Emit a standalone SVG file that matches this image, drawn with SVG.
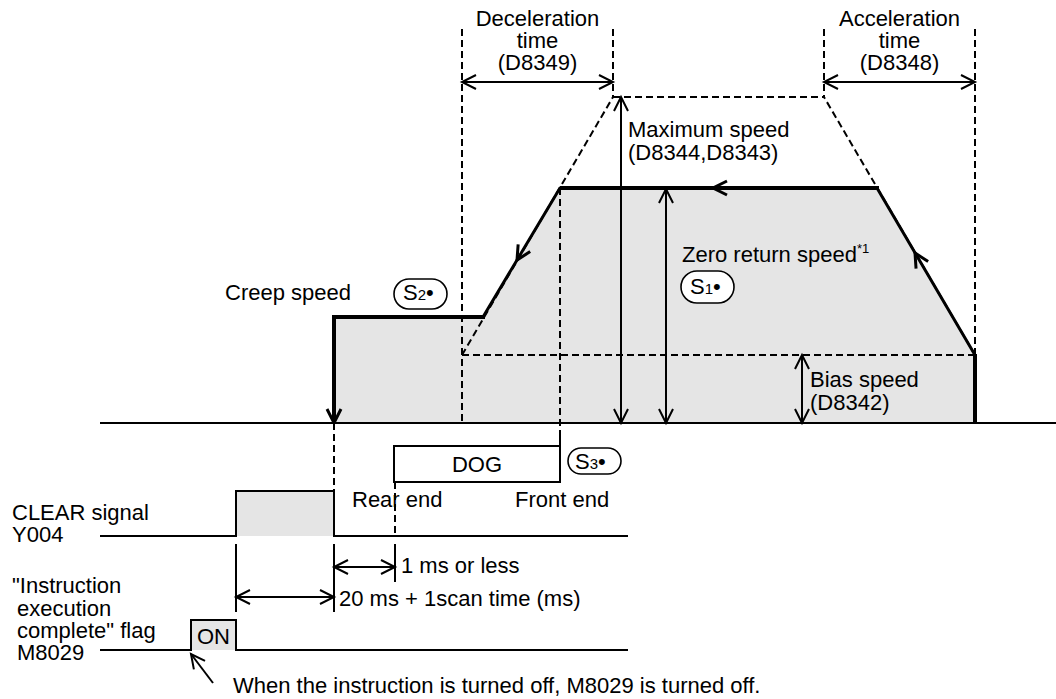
<svg xmlns="http://www.w3.org/2000/svg" width="1056" height="699" viewBox="0 0 1056 699">
<style>
text{font-family:"Liberation Sans",Arial,sans-serif;font-size:22px;fill:#000}
.dash{fill:none;stroke:#000;stroke-width:2;stroke-dasharray:7 4}
.thin{fill:none;stroke:#000;stroke-width:2}
.hv{fill:none;stroke:#000;stroke-width:4;stroke-linejoin:miter}
.dg{fill:none;stroke:#000;stroke-width:3;stroke-linecap:round}
.gray{fill:#e5e5e5;stroke:none}
.pill{fill:#fff;stroke:#000;stroke-width:1.6}
.dim{fill:none;stroke:#000;stroke-width:2;marker-start:url(#ah);marker-end:url(#ah)}
.one{fill:none;stroke:#000;stroke-width:2;marker-end:url(#ah)}
.sub{font-size:15px}
.sup{font-size:13px}
</style>
<defs>
<marker id="ah" viewBox="-16 -9 18 18" refX="0" refY="0" markerWidth="18" markerHeight="18" markerUnits="userSpaceOnUse" orient="auto-start-reverse" style="overflow:visible">
<path d="M-14,-7 L0,0 L-14,7" fill="none" stroke="#000" stroke-width="2"/>
</marker>
<path id="vh" d="M-14,-7 L0,0 L-14,7" fill="none" stroke="#000" stroke-width="3"/>
</defs>

<g id="profile-fill">
<polygon class="gray" points="334,423 334,317 483,317 560,188 877,188 975,355 975,423"/>
</g>

<g id="guides">
<line class="dash" x1="462" y1="29" x2="462" y2="423"/>
<line class="dash" x1="613" y1="29" x2="613" y2="97"/>
<line class="dash" x1="824" y1="29" x2="824" y2="97"/>
<line class="dash" x1="975" y1="29" x2="975" y2="355"/>
<line class="dash" x1="613" y1="97" x2="824" y2="97"/>
<line class="dash" x1="462" y1="355" x2="613" y2="97"/>
<line class="dash" x1="975" y1="355" x2="824" y2="97"/>
<line class="dash" x1="462" y1="355" x2="975" y2="355"/>
<line class="dash" x1="560" y1="188" x2="560" y2="436"/>
<line class="dash" x1="334" y1="423" x2="334" y2="491"/>
<line class="dash" x1="395" y1="482" x2="395" y2="536"/>
</g>

<g id="axis">
<line class="thin" x1="100" y1="423" x2="1056" y2="423"/>
</g>

<g id="speed-profile">
<line class="hv" x1="975" y1="423" x2="975" y2="354"/>
<line class="dg" x1="975" y1="355" x2="877" y2="188"/>
<polyline class="hv" points="879,188 560,188"/>
<line class="dg" x1="560" y1="188" x2="483" y2="317"/>
<polyline class="hv" points="485,317 334,317 334,422"/>
<use href="#vh" transform="translate(915,253) rotate(-120.4)"/>
<use href="#vh" transform="translate(713,188) rotate(180)"/>
<use href="#vh" transform="translate(517,260) rotate(120.8)"/>
<use href="#vh" transform="translate(334,423) rotate(90)"/>
</g>

<g id="connectors">
<line class="dim" x1="462" y1="82" x2="613" y2="82"/>
<line class="dim" x1="824" y1="82" x2="975" y2="82"/>
<line class="dim" x1="621" y1="97" x2="621" y2="423"/>
<line class="dim" x1="666" y1="189" x2="666" y2="423"/>
<line class="dim" x1="802" y1="355" x2="802" y2="423"/>
<line class="dim" x1="334" y1="567" x2="395" y2="567"/>
<line class="dim" x1="236" y1="597" x2="334" y2="597"/>
<line class="one" x1="213" y1="683" x2="191" y2="654"/>
<line class="thin" x1="236" y1="544" x2="236" y2="612"/>
<line class="thin" x1="334" y1="544" x2="334" y2="612"/>
<line class="thin" x1="395" y1="544" x2="395" y2="582"/>
</g>

<g id="decel-label">
<text x="537.5" y="26" text-anchor="middle">Deceleration</text>
<text x="537.5" y="48" text-anchor="middle">time</text>
<text x="537.5" y="70" text-anchor="middle">(D8349)</text>
</g>
<g id="accel-label">
<text x="899.5" y="26" text-anchor="middle">Acceleration</text>
<text x="899.5" y="48" text-anchor="middle">time</text>
<text x="899.5" y="70" text-anchor="middle">(D8348)</text>
</g>
<g id="max-speed-label">
<text x="628" y="137">Maximum speed</text>
<text x="628" y="160">(D8344,D8343)</text>
</g>
<g id="zero-return-label">
<text x="682" y="262">Zero return speed<tspan class="sup" dy="-9">*1</tspan></text>
<rect class="pill" x="681" y="271" width="53" height="32" rx="16"/>
<text x="690" y="294">S<tspan class="sub">1</tspan>•</text>
</g>
<g id="creep-label">
<text x="225" y="300">Creep speed</text>
<rect class="pill" x="394" y="279" width="53" height="30" rx="15"/>
<text x="403" y="300">S<tspan class="sub">2</tspan>•</text>
</g>
<g id="bias-label">
<text x="810" y="387">Bias speed</text>
<text x="810" y="410">(D8342)</text>
</g>

<g id="dog">
<path class="thin" d="M560,436 V482 H394 V446 H560"/>
<text x="477" y="472" text-anchor="middle">DOG</text>
<rect class="pill" x="568" y="448" width="53" height="26" rx="13"/>
<text x="575" y="469">S<tspan class="sub">3</tspan>•</text>
<text x="352" y="507">Rear end</text>
<text x="515" y="507">Front end</text>
</g>

<g id="clear-signal">
<rect class="gray" x="236" y="491" width="98" height="45"/>
<polyline class="thin" points="100,536 236,536 236,491 334,491 334,536 628,536"/>
<text x="12" y="520">CLEAR signal</text>
<text x="12" y="542">Y004</text>
</g>

<g id="timing-labels">
<text x="401" y="573">1 ms or less</text>
<text x="339" y="606">20 ms + 1scan time (ms)</text>
</g>

<g id="m8029-signal">
<rect class="gray" x="191" y="620" width="45" height="30"/>
<polyline class="thin" points="100,650 191,650 191,620 236,620 236,650 628,650"/>
<text x="213.5" y="644" text-anchor="middle">ON</text>
<text x="12" y="593">"Instruction</text>
<text x="17" y="616">execution</text>
<text x="17" y="638">complete" flag</text>
<text x="17" y="660">M8029</text>
<text x="233" y="693">When the instruction is turned off, M8029 is turned off.</text>
</g>
</svg>
